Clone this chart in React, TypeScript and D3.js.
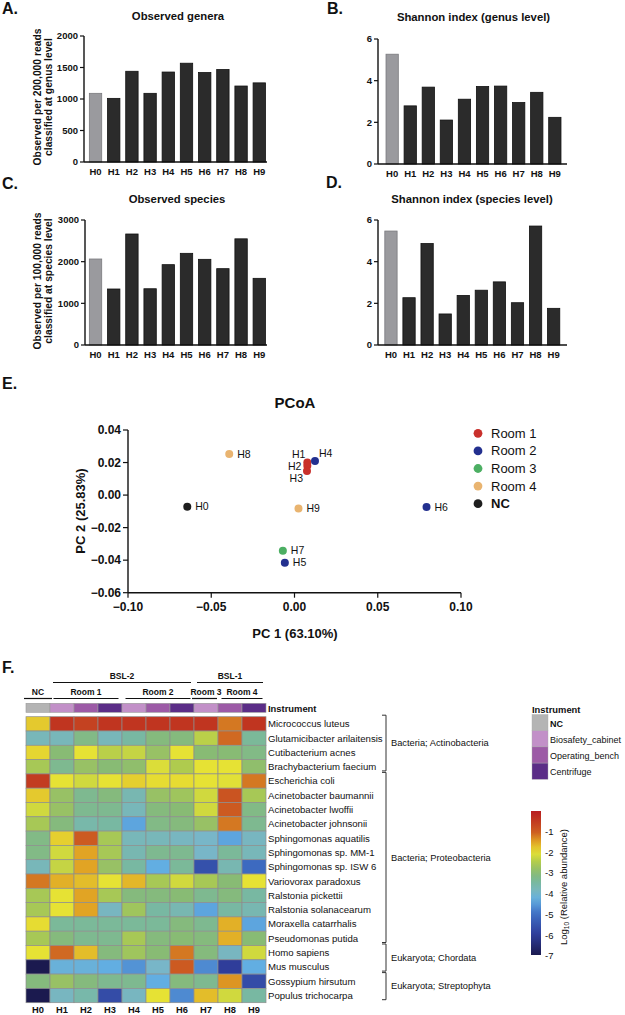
import React from 'react';
import * as d3 from 'd3';

const FONT = "'Liberation Sans', Arial, Helvetica, sans-serif";

// ---------- Data ----------
const samples = ["H0", "H1", "H2", "H3", "H4", "H5", "H6", "H7", "H8", "H9"];

const observedGenera = [1090, 1010, 1440, 1090, 1428, 1568, 1420, 1468, 1206, 1256];
const shannonGenus = [5.27, 2.79, 3.69, 2.11, 3.11, 3.72, 3.74, 2.95, 3.44, 2.24];
const observedSpecies = [2064, 1344, 2664, 1350, 1928, 2200, 2056, 1832, 2548, 1600];
const shannonSpecies = [5.47, 2.27, 4.87, 1.49, 2.38, 2.63, 3.03, 2.03, 5.71, 1.76];

const generaTicks = [0, 500, 1000, 1500, 2000];
const speciesTicks = [0, 1000, 2000, 3000];
const shannonTicks = [0, 2, 4, 6];

const pc1 = [-0.0644, 0.0077, 0.0077, 0.0075, 0.0123, -0.0058, 0.0793, -0.007, -0.0392, 0.0024];
const pc2 = [-0.0071, 0.0201, 0.0181, 0.0148, 0.0209, -0.0416, -0.0073, -0.0342, 0.0252, -0.0082];
const pcoaGroup = ["NC", "Room 1", "Room 1", "Room 1", "Room 2", "Room 2", "Room 2", "Room 3", "Room 4", "Room 4"];
const pcoaLegend = ["Room 1", "Room 2", "Room 3", "Room 4", "NC"];
const pcoaColors = ["#c9302c", "#23308f", "#4caf63", "#e9b470", "#1e1e1e"];
const pcoaXTicks = [-0.1, -0.05, 0, 0.05, 0.1];
const pcoaYTicks = [-0.06, -0.04, -0.02, 0, 0.02, 0.04];

const speciesNames = [
  "Micrococcus luteus", "Glutamicibacter arilaitensis", "Cutibacterium acnes", "Brachybacterium faecium",
  "Escherichia coli", "Acinetobacter baumannii", "Acinetobacter lwoffii", "Acinetobacter johnsonii",
  "Sphingomonas aquatilis", "Sphingomonas sp. MM-1", "Sphingomonas sp. ISW 6", "Variovorax paradoxus",
  "Ralstonia pickettii", "Ralstonia solanacearum", "Moraxella catarrhalis", "Pseudomonas putida",
  "Homo sapiens", "Mus musculus", "Gossypium hirsutum", "Populus trichocarpa",
];

// log10 relative abundance, rows = species, columns = H0..H9
const abundance = [
  [-1.8, -0.4, -0.6, -0.4, -0.4, -0.4, -0.4, -0.4, -1.2, -0.4],
  [-3.8, -3.8, -3.2, -3.8, -3.5, -3.1, -3.1, -2.4, -1.1, -3.4],
  [-1.9, -3.0, -2.0, -2.4, -2.3, -2.8, -2.0, -3.0, -3.0, -3.2],
  [-2.6, -3.3, -2.8, -3.0, -2.9, -2.1, -2.5, -2.0, -2.0, -2.9],
  [-0.5, -2.0, -2.2, -2.0, -1.85, -1.95, -1.95, -2.0, -2.05, -1.2],
  [-1.8, -2.8, -3.3, -3.1, -3.7, -2.8, -2.7, -2.2, -0.9, -2.6],
  [-2.2, -2.8, -3.3, -3.3, -3.8, -3.1, -3.0, -2.2, -1.0, -3.2],
  [-2.6, -3.1, -3.6, -3.5, -4.4, -3.2, -3.1, -2.8, -1.2, -3.3],
  [-3.2, -1.85, -1.0, -2.6, -3.8, -3.8, -3.9, -4.0, -4.4, -3.9],
  [-3.2, -2.2, -1.5, -2.6, -3.7, -3.3, -3.3, -4.0, -3.4, -3.8],
  [-3.8, -2.3, -1.5, -2.8, -3.5, -4.3, -3.4, -5.6, -3.7, -5.1],
  [-1.2, -1.6, -1.7, -2.0, -1.65, -2.6, -2.2, -2.6, -3.0, -2.0],
  [-2.6, -2.0, -1.5, -2.6, -3.1, -3.1, -3.0, -3.3, -3.1, -3.5],
  [-2.6, -2.0, -1.5, -3.9, -2.7, -3.5, -3.7, -4.4, -3.5, -3.7],
  [-1.95, -3.4, -3.4, -3.4, -3.4, -3.4, -3.1, -3.3, -1.6, -4.4],
  [-2.6, -3.1, -3.3, -3.3, -2.6, -3.1, -3.0, -3.1, -1.6, -3.0],
  [-2.0, -1.1, -1.7, -3.1, -2.7, -3.0, -1.2, -3.1, -3.9, -2.2],
  [-7.0, -4.2, -4.2, -4.3, -4.6, -4.0, -1.0, -4.7, -6.0, -4.3],
  [-3.1, -2.8, -3.1, -3.3, -3.3, -4.3, -3.1, -3.3, -1.4, -5.7],
  [-7.0, -3.9, -3.6, -5.7, -3.9, -2.0, -4.7, -1.7, -2.2, -3.5],
];

const taxGroups = [
  { label: "Bacteria; Actinobacteria", first: 0, last: 3 },
  { label: "Bacteria; Proteobacteria", first: 4, last: 15 },
  { label: "Eukaryota; Chordata", first: 16, last: 17 },
  { label: "Eukaryota; Streptophyta", first: 18, last: 19 },
];

const instrumentOf = ["NC", "Biosafety_cabinet", "Operating_bench", "Centrifuge", "Biosafety_cabinet", "Operating_bench", "Centrifuge", "Biosafety_cabinet", "Operating_bench", "Centrifuge"];
const instrumentNames = ["NC", "Biosafety_cabinet", "Operating_bench", "Centrifuge"];
const instrumentColors = ["#b4b4b4", "#c290c8", "#9c5aa6", "#5b2d87"];

const siteGroups = [
  { label: "BSL-2", from: "H1", to: "H6" },
  { label: "BSL-1", from: "H7", to: "H9" },
];
const roomGroups = [
  { label: "NC", from: "H0", to: "H0" },
  { label: "Room 1", from: "H1", to: "H3" },
  { label: "Room 2", from: "H4", to: "H6" },
  { label: "Room 3", from: "H7", to: "H7" },
  { label: "Room 4", from: "H8", to: "H9" },
];

const heatStops = [-7, -6, -5, -4.3, -4, -3.5, -3, -2.5, -2, -1.5, -1, 0];
const heatColors = ["#1b1a4f", "#2f3d9a", "#3f6fc4", "#62aee2", "#78b6c8", "#78b8a2", "#88bb74", "#afcb4e", "#e6e234", "#e1a424", "#cc5a21", "#b81d20"];
const colorbarTicks = [-1, -2, -3, -4, -5, -6, -7];

// ---------- Components ----------
type BarProps = {
  values: number[]; yMax: number; ticks: number[];
  axisX: number; yTop: number; yBottom: number; axisEnd: number; band: [number, number];
  title: string; titleX: number; titleY: number;
  letter: string; letterX: number; letterY: number;
  ylabel?: string[]; ylabelX?: number[]; ylabelY?: number;
};

function BarPanel(p: BarProps) {
  const x = d3.scaleBand<string>().domain(samples).range(p.band).paddingInner(0.32).paddingOuter(0.2);
  const y = d3.scaleLinear().domain([0, p.yMax]).range([p.yBottom, p.yTop]);
  return (
    <g>
      <text x={p.letterX} y={p.letterY} fontSize={16} fontWeight="bold">{p.letter}</text>
      <text x={p.titleX} y={p.titleY} fontSize={11.3} fontWeight="bold" textAnchor="middle">{p.title}</text>
      {p.ylabel && p.ylabel.map((l, i) => (
        <text key={i} transform={`translate(${p.ylabelX![i]},${p.ylabelY}) rotate(-90)`} fontSize={10.3} fontWeight="bold" textAnchor="middle">{l}</text>
      ))}
      {p.values.map((v, i) => (
        <rect key={i} x={x(samples[i])} y={y(v)} width={x.bandwidth()} height={y(0) - y(v)}
          fill={i === 0 ? "#9a9a9e" : "#2b2b2b"} stroke={i === 0 ? "#7a7a7e" : "#111"} strokeWidth={0.8} />
      ))}
      <line x1={p.axisX} x2={p.axisX} y1={p.yTop} y2={p.yBottom} stroke="#111" strokeWidth={1.4} />
      <line x1={p.axisX} x2={p.axisEnd} y1={p.yBottom} y2={p.yBottom} stroke="#111" strokeWidth={1.4} />
      {p.ticks.map((t) => (
        <g key={t}>
          <line x1={p.axisX - 4} x2={p.axisX} y1={y(t)} y2={y(t)} stroke="#111" strokeWidth={1.2} />
          <text x={p.axisX - 6} y={y(t)} dy="0.35em" fontSize={9.5} fontWeight="bold" textAnchor="end">{t}</text>
        </g>
      ))}
      {samples.map((s) => (
        <text key={s} x={x(s)! + x.bandwidth() / 2} y={p.yBottom + 10} dy="0.35em" fontSize={9.5} fontWeight="bold" textAnchor="middle">{s}</text>
      ))}
    </g>
  );
}

function PCoA() {
  const x = d3.scaleLinear().domain([-0.1, 0.1]).range([128, 461]);
  const y = d3.scaleLinear().domain([-0.06, 0.04]).range([592.7, 430]);
  const color = d3.scaleOrdinal<string, string>().domain(pcoaLegend).range(pcoaColors);
  const labelOffsets: Record<string, [number, number, string]> = {
    H1: [-2, -8, "end"], H2: [-6, 0.5, "end"], H3: [-4, 7.5, "end"], H4: [4, -8, "start"],
  };
  const fmt = d3.format(".2f");
  return (
    <g>
      <text x={2} y={389} fontSize={16} fontWeight="bold">E.</text>
      <text x={295} y={407.5} fontSize={15} fontWeight="bold" textAnchor="middle">PCoA</text>
      <text transform={`translate(85,511) rotate(-90)`} fontSize={13} fontWeight="bold" textAnchor="middle">PC 2 (25.83%)</text>
      <text x={295} y={638} fontSize={13} fontWeight="bold" textAnchor="middle">PC 1 (63.10%)</text>
      <line x1={x(-0.1)} x2={x(-0.1)} y1={y(0.04)} y2={y(-0.06)} stroke="#111" strokeWidth={1.4} />
      <line x1={x(-0.1)} x2={x(0.1)} y1={y(-0.06)} y2={y(-0.06)} stroke="#111" strokeWidth={1.4} />
      {pcoaYTicks.map((t) => (
        <g key={t}>
          <line x1={x(-0.1) - 5} x2={x(-0.1)} y1={y(t)} y2={y(t)} stroke="#111" strokeWidth={1.2} />
          <text x={x(-0.1) - 7} y={y(t)} dy="0.35em" fontSize={12} fontWeight="bold" textAnchor="end">{fmt(t)}</text>
        </g>
      ))}
      {pcoaXTicks.map((t) => (
        <g key={t}>
          <line x1={x(t)} x2={x(t)} y1={y(-0.06)} y2={y(-0.06) + 5} stroke="#111" strokeWidth={1.2} />
          <text x={x(t)} y={y(-0.06) + 14} dy="0.35em" fontSize={12} fontWeight="bold" textAnchor="middle">{fmt(t)}</text>
        </g>
      ))}
      {samples.map((s, i) => {
        const off = labelOffsets[s] || [8, 0, "start"];
        return (
          <g key={s}>
            <circle cx={x(pc1[i])} cy={y(pc2[i])} r={4} fill={color(pcoaGroup[i])} />
            <text x={x(pc1[i]) + off[0]} y={y(pc2[i]) + off[1]} dy="0.35em" fontSize={10.5} textAnchor={off[2] as any}>{s}</text>
          </g>
        );
      })}
      {pcoaLegend.map((g, i) => (
        <g key={g}>
          <circle cx={478} cy={433.3 + i * 17.6} r={4.4} fill={color(g)} />
          <text x={491} y={433.3 + i * 17.6} dy="0.35em" fontSize={13} fontWeight={g === "NC" ? "bold" : "normal"}>{g}</text>
        </g>
      ))}
    </g>
  );
}

function Heatmap() {
  const x = d3.scaleBand<string>().domain(samples).range([26, 266]);
  const y = d3.scaleBand<string>().domain(speciesNames).range([716.7, 1002.7]);
  const color = d3.scaleLinear<string>().domain(heatStops).range(heatColors).interpolate(d3.interpolateRgb);
  const instColor = d3.scaleOrdinal<string, string>().domain(instrumentNames).range(instrumentColors);
  const cb = d3.scaleLinear().domain([0, -7]).range([811, 956]);
  const bw = x.bandwidth();
  const gradStops = d3.range(0, 1.0001, 0.05);
  return (
    <g>
      <defs>
        <linearGradient id="cbar" x1="0" y1="0" x2="0" y2="1">
          {gradStops.map((t) => (
            <stop key={t} offset={t} stopColor={color(-7 * t)} />
          ))}
        </linearGradient>
      </defs>
      <text x={2} y={673} fontSize={16} fontWeight="bold">F.</text>
      {siteGroups.map((g) => {
        const x1 = x(g.from)! + 3, x2 = x(g.to)! + bw - 3;
        return (
          <g key={g.label}>
            <text x={(x1 + x2) / 2} y={679} fontSize={8.5} fontWeight="bold" textAnchor="middle">{g.label}</text>
            <line x1={x1} x2={x2} y1={682.5} y2={682.5} stroke="#111" strokeWidth={1.2} />
          </g>
        );
      })}
      {roomGroups.map((g) => {
        const span = x(g.to)! + bw - x(g.from)!;
        const inset = span < 30 ? -2 : g.label === "NC" ? 1.5 : 3.5;
        const x1 = x(g.from)! + inset, x2 = x(g.to)! + bw - (g.label === "Room 3" ? 1 : inset);
        return (
          <g key={g.label}>
            <text x={x(g.from)! + span / 2} y={694.5} fontSize={8.5} fontWeight="bold" textAnchor="middle">{g.label}</text>
            <line x1={x1} x2={x2} y1={698.5} y2={698.5} stroke="#111" strokeWidth={1.2} />
          </g>
        );
      })}
      {samples.map((s, i) => (
        <rect key={s} x={x(s)} y={703.3} width={bw} height={9} fill={instColor(instrumentOf[i])} stroke="#9a9a9a" strokeWidth={0.6} />
      ))}
      <text x={268} y={712} fontSize={9.4} fontWeight="bold">Instrument</text>
      {abundance.map((row, r) => row.map((v, c) => (
        <rect key={`${r}-${c}`} x={x(samples[c])} y={y(speciesNames[r])} width={bw} height={y.bandwidth()}
          fill={color(v)} stroke="#8e8e8e" strokeWidth={0.7} />
      )))}
      {speciesNames.map((n) => (
        <text key={n} x={268} y={y(n)! + y.bandwidth() / 2} dy="0.35em" fontSize={9.6}>{n}</text>
      ))}
      {samples.map((s) => (
        <text key={s} x={x(s)! + bw / 2} y={1010} dy="0.35em" fontSize={9.3} fontWeight="bold" textAnchor="middle">{s}</text>
      ))}
      {taxGroups.map((g) => {
        const y1 = y(speciesNames[g.first])! - 1.5, y2 = y(speciesNames[g.last])! + y.bandwidth() - 3;
        return (
          <g key={g.label}>
            <path d={`M382,${y1}H386V${y2}H382`} fill="none" stroke="#333" strokeWidth={1} />
            <text x={391} y={(y1 + y2) / 2} dy="0.35em" fontSize={9.3}>{g.label}</text>
          </g>
        );
      })}
      <text x={532} y={713} fontSize={9.4} fontWeight="bold">Instrument</text>
      {instrumentNames.map((n, i) => (
        <g key={n}>
          <rect x={532} y={714.5 + i * 16.2} width={16} height={16.2} fill={instColor(n)} stroke="#aaa" strokeWidth={0.4} />
          <text x={550} y={714.5 + i * 16.2 + 12} fontSize={9} fontWeight={n === "NC" ? "bold" : "normal"}>{n}</text>
        </g>
      ))}
      <rect x={531} y={cb(0)} width={10} height={cb(-7) - cb(0) - 1} fill="url(#cbar)" />
      {colorbarTicks.map((t) => (
        <text key={t} x={545} y={cb(t)} dy="0.35em" fontSize={9.5}>{t}</text>
      ))}
      <text transform={`translate(566.5,887) rotate(-90)`} fontSize={9.5} textAnchor="middle">
        Log<tspan fontSize={6.5} dy="2">10</tspan><tspan dy="-2"> (Relative abundance)</tspan>
      </text>
    </g>
  );
}

export default function App() {
  return (
    <svg width={625} height={1015} style={{ position: 'absolute', left: 0, top: 0, background: '#fff' }} fontFamily={FONT} fill="#111">
      <rect x={0} y={0} width={625} height={1015} fill="#fff" />
      <BarPanel values={observedGenera} yMax={2000} ticks={generaTicks} axisX={84} yTop={36} yBottom={162} axisEnd={267}
        band={[85.7, 269.1]} title="Observed genera" titleX={178} titleY={19.5} letter="A." letterX={2} letterY={14}
        ylabel={["Observed per 200,000 reads", "classified at genus level"]} ylabelX={[41.4, 52]} ylabelY={97} />
      <BarPanel values={shannonGenus} yMax={6} ticks={shannonTicks} axisX={378} yTop={39} yBottom={164} axisEnd={567}
        band={[382.4, 564.6]} title="Shannon index (genus level)" titleX={473.5} titleY={21} letter="B." letterX={327} letterY={14} />
      <BarPanel values={observedSpecies} yMax={3000} ticks={speciesTicks} axisX={85} yTop={220} yBottom={345} axisEnd={267}
        band={[85.7, 269.1]} title="Observed species" titleX={177} titleY={203} letter="C." letterX={2} letterY={189}
        ylabel={["Observed per 100,000 reads", "classified at species level"]} ylabelX={[41.4, 52]} ylabelY={281} />
      <BarPanel values={shannonSpecies} yMax={6} ticks={shannonTicks} axisX={378} yTop={220} yBottom={345} axisEnd={567}
        band={[381.2, 563.4]} title="Shannon index (species level)" titleX={472} titleY={203} letter="D." letterX={326} letterY={188} />
      <PCoA />
      <Heatmap />
    </svg>
  );
}
